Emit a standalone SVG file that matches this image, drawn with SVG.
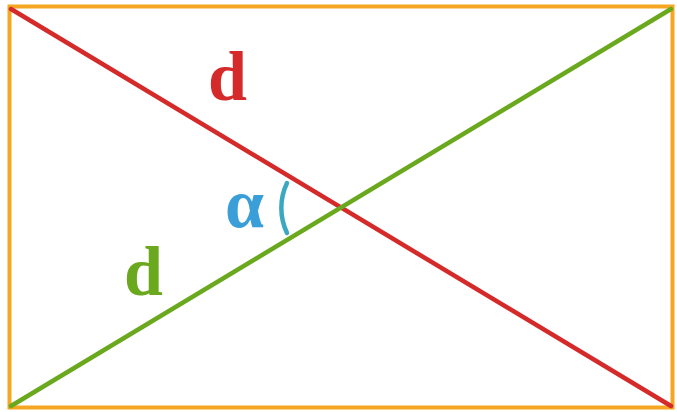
<svg xmlns="http://www.w3.org/2000/svg" width="677" height="412" viewBox="0 0 677 412">
<style>
.lbl{font-family:"Liberation Serif","DejaVu Serif",serif;font-size:70px;font-weight:bold}
.ln{fill:none;stroke-width:4.5;stroke-linecap:round}
</style>
<rect width="677" height="412" fill="#ffffff"/>
<g id="frame"><rect x="9.5" y="6.5" width="663" height="401" fill="none" stroke="#f5a623" stroke-width="4"/></g>
<g id="connectors">
<line class="ln" x1="11" y1="9" x2="671" y2="406" stroke="#d42a2a"/>
<line class="ln" x1="11" y1="406" x2="671" y2="9" stroke="#6aa81e"/>
<path class="ln" d="M287,183 A58,58 0 0 0 287,233" stroke="#3aa8c0" stroke-width="3"/>
</g>
<g id="label-d-red"><text class="lbl" x="208" y="100" fill="#d42a2a">d</text></g>
<g id="label-d-green"><text class="lbl" x="124" y="295" fill="#6aa81e">d</text></g>
<g id="label-alpha"><text class="lbl" x="225" y="227" fill="#3a9ed8">α</text></g>
</svg>
